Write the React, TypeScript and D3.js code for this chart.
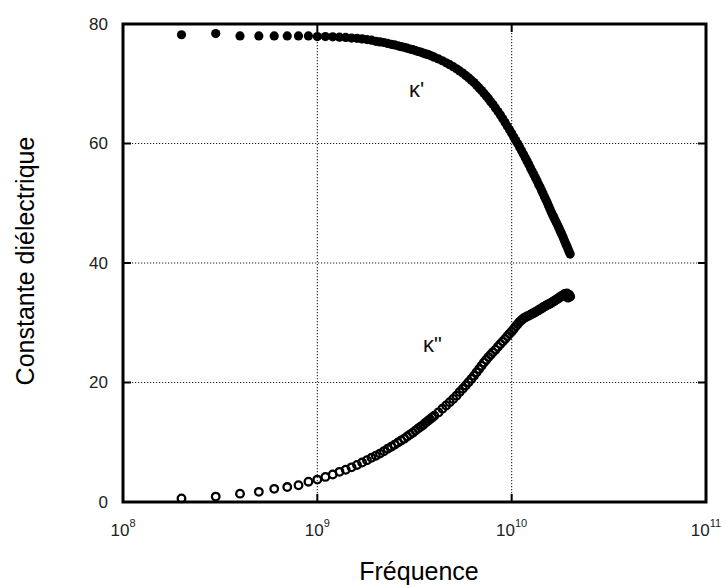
import React from "react";
import * as d3 from "d3";

// Frequencies in GHz
const freqGHz: number[] = [
  0.2, 0.3, 0.4, 0.5, 0.6, 0.7, 0.8, 0.9, 1.0,
  1.1, 1.2, 1.3, 1.4, 1.5, 1.6, 1.7, 1.8, 1.9, 2.0,
  2.1, 2.2, 2.3, 2.4, 2.5, 2.6, 2.7, 2.8, 2.9, 3.0,
  3.1, 3.2, 3.3, 3.4, 3.5, 3.6, 3.7, 3.8, 3.9, 4.0,
  4.2, 4.4, 4.6, 4.8, 5.0, 5.2, 5.4, 5.6, 5.8, 6.0,
  6.2, 6.4, 6.6, 6.8, 7.0, 7.2, 7.4, 7.6, 7.8, 8.0,
  8.25, 8.5, 8.75, 9.0, 9.25, 9.5, 9.75, 10.0,
  10.25, 10.5, 10.75, 11.0, 11.25, 11.5, 11.75, 12.0,
  12.25, 12.5, 12.75, 13.0, 13.25, 13.5, 13.75, 14.0,
  14.25, 14.5, 14.75, 15.0, 15.25, 15.5, 15.75, 16.0,
  16.25, 16.5, 16.75, 17.0, 17.25, 17.5, 17.75, 18.0,
  18.25, 18.5, 18.75, 19.0, 19.25, 19.5, 19.75, 20.0,
];

// κ' (real part)
const kappaReal: number[] = [
  78.2, 78.4, 78.0, 78.0, 78.0, 78.0, 78.0, 78.0, 77.9,
  77.9, 77.85, 77.8, 77.75, 77.65, 77.6, 77.5, 77.4, 77.3, 77.1,
  77.0, 76.9, 76.75, 76.6, 76.5, 76.35, 76.2, 76.1, 75.95, 75.8,
  75.7, 75.55, 75.4, 75.3, 75.15, 75.0, 74.9, 74.75, 74.6, 74.45,
  74.15, 73.85, 73.5, 73.2, 72.85, 72.5, 72.15, 71.8, 71.4, 71.0,
  70.6, 70.2, 69.75, 69.3, 68.85, 68.4, 67.95, 67.5, 67.0, 66.55,
  65.95, 65.35, 64.75, 64.15, 63.5, 62.9, 62.3, 61.7,
  61.1, 60.5, 59.95, 59.35, 58.8, 58.2, 57.6, 57.05,
  56.5, 55.9, 55.35, 54.8, 54.25, 53.75, 53.2, 52.7,
  52.15, 51.65, 51.1, 50.6, 50.1, 49.55, 49.05, 48.5,
  48.05, 47.6, 47.15, 46.75, 46.3, 45.85, 45.4, 45.0,
  44.55, 44.1, 43.65, 43.2, 42.8, 42.35, 41.9, 41.5,
];

// κ'' (imaginary part)
const kappaImag: number[] = [
  0.6, 0.9, 1.4, 1.7, 2.2, 2.5, 2.8, 3.4, 3.75,
  4.2, 4.6, 5.05, 5.4, 5.8, 6.2, 6.6, 7.0, 7.4, 7.75,
  8.1, 8.5, 8.9, 9.25, 9.6, 9.95, 10.3, 10.6, 10.95, 11.3,
  11.6, 11.95, 12.3, 12.6, 12.9, 13.25, 13.55, 13.85, 14.15, 14.45,
  15.0, 15.6, 16.15, 16.7, 17.25, 17.8, 18.4, 18.95, 19.5, 20.05,
  20.6, 21.15, 21.7, 22.25, 22.8, 23.35, 23.8, 24.25, 24.65, 25.05,
  25.5, 26.0, 26.45, 26.85, 27.3, 27.75, 28.15, 28.55,
  28.95, 29.4, 29.8, 30.15, 30.45, 30.7, 30.9, 31.05,
  31.2, 31.35, 31.5, 31.65, 31.8, 31.95, 32.1, 32.25,
  32.4, 32.6, 32.7, 32.85, 33.0, 33.1, 33.2, 33.35,
  33.5, 33.6, 33.75, 33.9, 34.0, 34.15, 34.3, 34.45,
  34.5, 34.7, 34.8, 34.55, 34.9, 34.2, 34.7, 34.4,
];

const yTicks: number[] = [0, 20, 40, 60, 80];
const yGrid: number[] = [20, 40, 60];
const xTickExponents: number[] = [8, 9, 10, 11];
const xGridExponents: number[] = [9, 10];

const xTitle = "Fréquence";
const yTitle = "Constante diélectrique";
const labelReal = "κ'";
const labelImag = "κ\"";

const W = 725;
const H = 585;
const FONT = "'Liberation Sans', Arial, Helvetica, sans-serif";

export default function App() {
  const left = 123, right = 706, top = 24, bottom = 502;
  const x = d3.scaleLog().domain([1e8, 1e11]).range([left, right]);
  const y = d3.scaleLinear().domain([0, 80]).range([bottom, top]);
  const tickLen = 8;

  return (
    <svg
      width={W}
      height={H}
      viewBox={`0 0 ${W} ${H}`}
      style={{ position: "absolute", left: 0, top: 0, background: "#fff" }}
    >
      <rect x={0} y={0} width={W} height={H} fill="#fff" />
      {/* gridlines */}
      <g stroke="#222" strokeWidth={1.1} strokeDasharray="1.2,1.8">
        {yGrid.map((v) => (
          <line key={"gy" + v} x1={left} x2={right} y1={y(v)} y2={y(v)} />
        ))}
        {xGridExponents.map((e) => (
          <line key={"gx" + e} x1={x(Math.pow(10, e))} x2={x(Math.pow(10, e))} y1={top} y2={bottom} />
        ))}
      </g>

      {/* kappa'' open circles */}
      <g fill="none" stroke="#000" strokeWidth={2.3}>
        {freqGHz.map((f, i) => (
          <circle key={"i" + i} cx={x(f * 1e9)} cy={y(kappaImag[i])} r={3.8} />
        ))}
      </g>
      {/* kappa' filled circles */}
      <g fill="#000">
        {freqGHz.map((f, i) => (
          <circle key={"r" + i} cx={x(f * 1e9)} cy={y(kappaReal[i])} r={4.6} />
        ))}
      </g>

      {/* ticks */}
      <g stroke="#000" strokeWidth={2}>
        {yGrid.map((v) => (
          <g key={"ty" + v}>
            <line x1={left} x2={left + tickLen} y1={y(v)} y2={y(v)} />
            <line x1={right} x2={right - tickLen} y1={y(v)} y2={y(v)} />
          </g>
        ))}
        {xGridExponents.map((e) => (
          <g key={"tx" + e}>
            <line x1={x(Math.pow(10, e))} x2={x(Math.pow(10, e))} y1={bottom} y2={bottom - tickLen} />
            <line x1={x(Math.pow(10, e))} x2={x(Math.pow(10, e))} y1={top} y2={top + tickLen} />
          </g>
        ))}
      </g>

      {/* frame */}
      <rect
        x={left}
        y={top}
        width={right - left}
        height={bottom - top}
        fill="none"
        stroke="#000"
        strokeWidth={3}
      />

      {/* y tick labels */}
      <g fontFamily={FONT} fontSize={17} fill="#222" textAnchor="end">
        {yTicks.map((v) => (
          <text key={"yl" + v} x={108} y={y(v)} dy="0.35em">
            {v}
          </text>
        ))}
      </g>

      {/* x tick labels */}
      <g fontFamily={FONT} fontSize={17} fill="#222" textAnchor="middle">
        {xTickExponents.map((e) => (
          <text key={"xl" + e} x={x(Math.pow(10, e))} y={536}>
            10
            <tspan dy={-9} fontSize={11}>
              {e}
            </tspan>
          </text>
        ))}
      </g>

      {/* series labels */}
      <text x={409} y={97} fontFamily={FONT} fontSize={22} fill="#111">
        {labelReal}
      </text>
      <text x={423} y={352} fontFamily={FONT} fontSize={22} fill="#111">
        {labelImag}
      </text>

      {/* axis titles */}
      <text
        x={419}
        y={580}
        fontFamily={FONT}
        fontSize={25}
        fill="#000"
        textAnchor="middle"
      >
        {xTitle}
      </text>
      <text
        transform={`translate(34, 261) rotate(-90)`}
        fontFamily={FONT}
        fontSize={25}
        fill="#000"
        textAnchor="middle"
      >
        {yTitle}
      </text>
    </svg>
  );
}
